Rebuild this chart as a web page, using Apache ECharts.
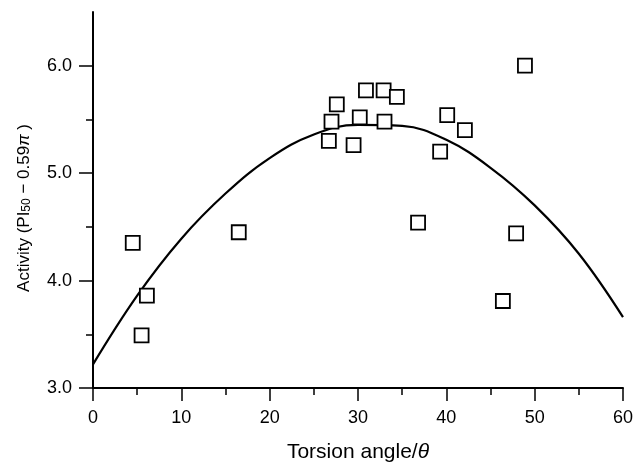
<!DOCTYPE html>
<html>
<head>
<meta charset="utf-8">
<script src="https://cdn.jsdelivr.net/npm/echarts@6/dist/echarts.min.js"></script>
<style>
  html, body { margin: 0; padding: 0; background: #fff; }
  #chart { width: 634px; height: 463px; }
</style>
</head>
<body>
<div id="chart"></div>
<script>
// measured points (torsion angle, activity)
var angles = [4.5, 5.5, 6.1, 16.5, 26.7, 27.0, 27.6, 29.5, 30.2, 30.9, 32.9, 33.0, 34.4, 36.8, 39.3, 40.1, 42.1, 46.4, 47.9, 48.9];
var activity = [4.35, 3.49, 3.86, 4.45, 5.30, 5.48, 5.64, 5.26, 5.52, 5.77, 5.77, 5.48, 5.71, 4.54, 5.20, 5.54, 5.40, 3.81, 4.44, 6.00];

// fitted curve, every 5 degrees
var curveX = [0, 5, 10, 15, 20, 25, 30, 35, 40, 45, 50, 55, 60];
var curveY = [3.22, 3.86, 4.39, 4.81, 5.14, 5.36, 5.45, 5.44, 5.31, 5.05, 4.70, 4.25, 3.66];

var yMajor = [3, 4, 5, 6];
var yMinor = [3.5, 4.5, 5.5];

var font = "'Liberation Sans', Arial, Helvetica, sans-serif";

var points = angles.map(function (a, i) { return [a, activity[i]]; });
var curve = curveX.map(function (a, i) { return [a, curveY[i]]; });

var chart = echarts.init(document.getElementById("chart"));
var option = {
  backgroundColor: "#fff",
  animation: false,
  // keep the plot box fixed, the x title is allowed to run off the bottom
  grid: { left: 93, right: 11, top: 12, bottom: 75, outerBoundsMode: "none" },
  xAxis: {
    type: "value",
    min: 0,
    max: 60,
    interval: 10,
    name: "Torsion angle/{it|θ}",
    nameLocation: "middle",
    nameGap: 54,
    nameTextStyle: {
      color: "#000",
      fontSize: 21,
      fontFamily: font,
      rich: { it: { fontSize: 21, fontStyle: "italic", fontFamily: font, color: "#000" } },
    },
    axisLine: { lineStyle: { color: "#000", width: 2 } },
    axisTick: { length: 13, lineStyle: { color: "#000", width: 1.5 } },
    minorTick: { show: true, splitNumber: 2, length: 7, lineStyle: { color: "#000", width: 1.5 } },
    axisLabel: { color: "#000", fontSize: 18, fontFamily: font, margin: 21 },
    splitLine: { show: false },
  },
  yAxis: [
    {
      type: "value",
      position: "left",
      min: 3,
      max: 6.5,
      interval: 0.5,
      // trailing pad pushes the rotated title a little down, as in the original
      name: "Activity (PI{sub|50} − 0.59{it|π} ){pad| }",
      nameLocation: "middle",
      nameGap: 60,
      nameTextStyle: {
        color: "#000",
        fontSize: 17,
        fontFamily: font,
        rich: {
          sub: { fontSize: 12, lineHeight: 8, verticalAlign: "bottom", fontFamily: font, color: "#000" },
          it: { fontSize: 17, fontStyle: "italic", fontFamily: font, color: "#000" },
          pad: { width: 16 },
        },
      },
      axisLine: { show: true, lineStyle: { color: "#000", width: 2 } },
      axisTick: { show: true, length: 14, customValues: yMajor, lineStyle: { color: "#000", width: 1.5 } },
      axisLabel: {
        color: "#000",
        fontSize: 18,
        fontFamily: font,
        margin: 21,
        customValues: yMajor,
        formatter: function (v) { return v.toFixed(1); },
      },
      splitLine: { show: false },
    },
    {
      // only carries the short ticks half way between the labels
      type: "value",
      position: "left",
      offset: 0,
      min: 3,
      max: 6.5,
      interval: 0.5,
      axisLine: { show: false },
      axisTick: { show: true, length: 7, customValues: yMinor, lineStyle: { color: "#000", width: 1.5 } },
      axisLabel: { show: false, customValues: yMinor },
      splitLine: { show: false },
    },
  ],
  series: [
    {
      type: "line",
      data: curve,
      smooth: 0.4,
      symbol: "none",
      lineStyle: { color: "#000", width: 2.2 },
      z: 2,
    },
    {
      type: "scatter",
      data: points,
      symbol: "rect",
      symbolSize: 14,
      itemStyle: { color: "#fff", borderColor: "#000", borderWidth: 1.8, opacity: 1 },
      z: 3,
    },
  ],
};
chart.setOption(option);
</script>
</body>
</html>
